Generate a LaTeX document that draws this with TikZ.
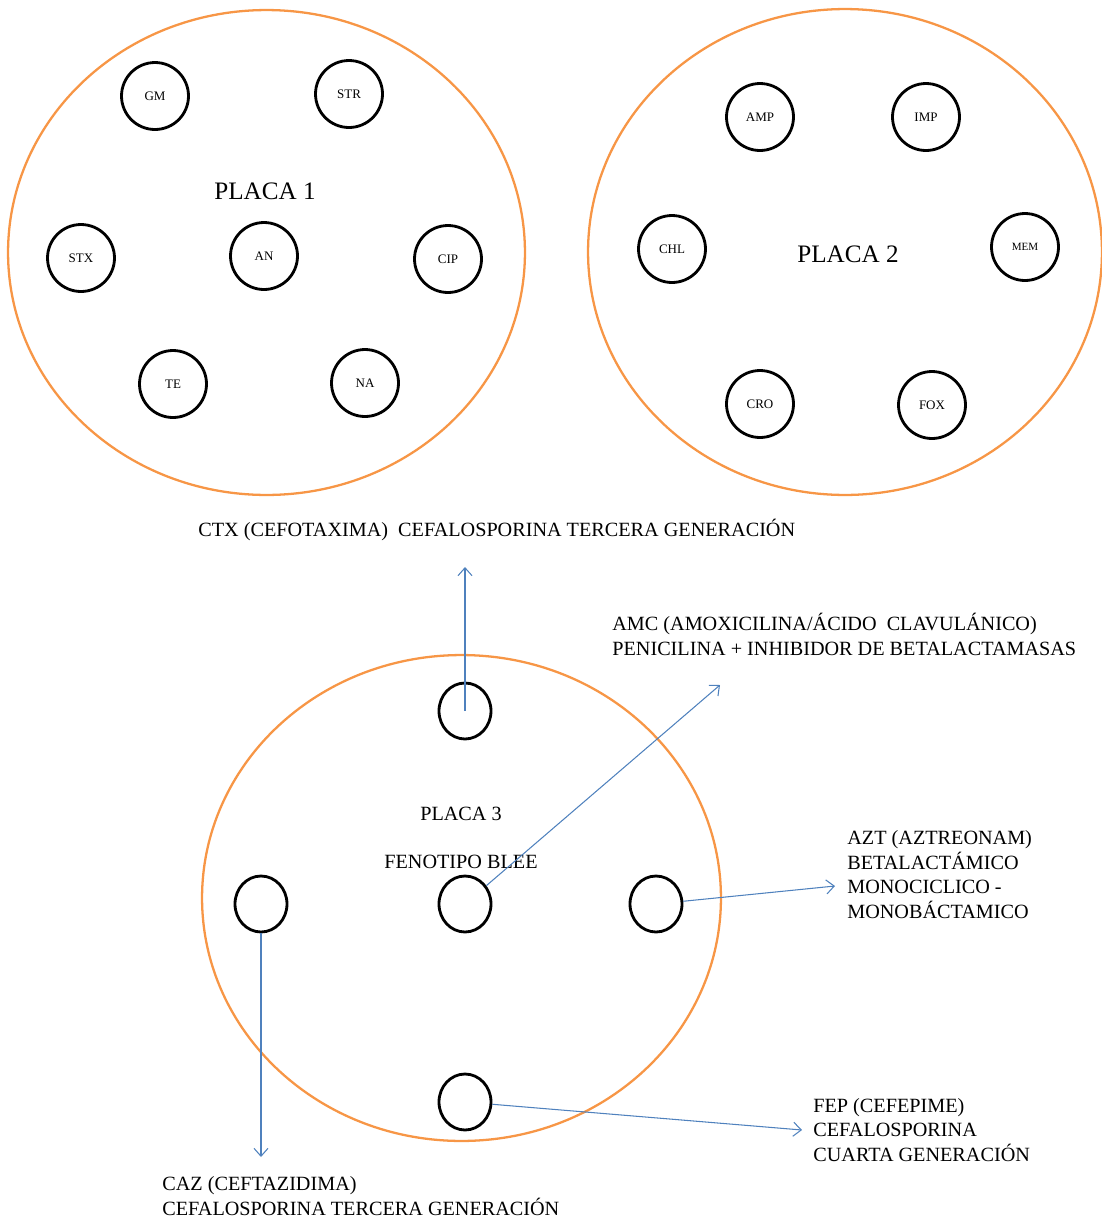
\documentclass[tikz,border=0pt]{standalone}
\usepackage{fontspec}
\setmainfont{Liberation Serif}
\usetikzlibrary{shapes.geometric,arrows.meta}
\definecolor{plateorange}{RGB}{247,150,70}
\definecolor{linkblue}{RGB}{79,129,189}
\begin{document}
\begin{tikzpicture}[x=0.02cm, y=-0.02cm,
  plate/.style={draw=plateorange, line width=1.3pt},
  disk/.style={draw, circle, line width=1.6pt, minimum size=1.34cm, inner sep=0pt, font=\fontsize{7.4}{8}\selectfont},
  well/.style={draw, ellipse, line width=1.6pt, minimum width=1.04cm, minimum height=1.12cm, inner sep=0pt},
  link/.style={draw=linkblue, line width=0.6pt, -{Straight Barb[length=4.5pt,width=8pt]}},
  note/.style={inner sep=0pt, anchor=base west, align=left, font=\fontsize{11.5}{13.9}\selectfont},
  title/.style={inner sep=0pt, font=\fontsize{14.3}{16}\selectfont}]
  \useasboundingbox (0,0) rectangle (1102,1221);
  \draw[plate] (266.5,252.5) ellipse [x radius=5.17cm, y radius=4.85cm];
  \draw[plate] (845,252) ellipse [x radius=5.14cm, y radius=4.86cm];
  \draw[plate] (461.5,898) ellipse [x radius=5.19cm, y radius=4.86cm];
  \node[title] (placa1) at (265,191) {PLACA 1};
  \node[disk] (gm) at (155,96) {GM};
  \node[disk] (str) at (349,94) {STR};
  \node[disk] (stx) at (81,258) {STX};
  \node[disk] (an) at (264,256) {AN};
  \node[disk] (cip) at (448,259) {CIP};
  \node[disk] (te) at (173,384) {TE};
  \node[disk] (na) at (365,383) {NA};
  \node[title] (placa2) at (848,254) {PLACA 2};
  \node[disk] (amp) at (760,117) {AMP};
  \node[disk] (imp) at (926,117) {IMP};
  \node[disk] (chl) at (672,249) {CHL};
  \node[disk, font=\fontsize{6.3}{7}\selectfont] (mem) at (1025,247) {MEM};
  \node[disk] (cro) at (760,404) {CRO};
  \node[disk] (fox) at (932,405) {FOX};
  \node[inner sep=0pt, font=\fontsize{11.5}{13.9}\selectfont] (placa3) at (461,814) {PLACA 3};
  \node[inner sep=0pt, font=\fontsize{11.5}{13.9}\selectfont] (blee) at (461,862) {FENOTIPO BLEE};
  \node[well] (ctx) at (465,711) {};
  \node[well] (caz) at (261,904) {};
  \node[well] (amc) at (465,904) {};
  \node[well] (azt) at (656,904) {};
  \node[well] (fep) at (465,1102) {};
  \node[note] (ctxtext) at (198,536) {CTX (CEFOTAXIMA)\ \ CEFALOSPORINA\ TERCERA GENERACIÓN};
  \node[note] (amctext) at (612,655) {AMC (AMOXICILINA/ÁCIDO\ \ CLAVULÁNICO)\\PENICILINA + INHIBIDOR DE BETALACTAMASAS};
  \node[note] (azttext) at (847,918) {AZT (AZTREONAM)\\BETALACTÁMICO\\MONOCICLICO -\\MONOBÁCTAMICO};
  \node[note] (feptext) at (813,1161) {FEP (CEFEPIME)\\CEFALOSPORINA\\CUARTA GENERACIÓN};
  \node[note] (caztext) at (162,1215) {CAZ (CEFTAZIDIMA)\\CEFALOSPORINA TERCERA GENERACIÓN};
  \coordinate (ctxend) at (465,567);
  \coordinate (amcend) at (720,685);
  \coordinate (aztend) at (835,886);
  \coordinate (fepend) at (802,1130);
  \coordinate (cazend) at (261,1157);
  \draw[link] (ctx.center) -- (ctxend);
  \draw[link] (amc) -- (amcend);
  \draw[link] (azt) -- (aztend);
  \draw[link] (fep) -- (fepend);
  \draw[link] (caz) -- (cazend);
\end{tikzpicture}
\end{document}
